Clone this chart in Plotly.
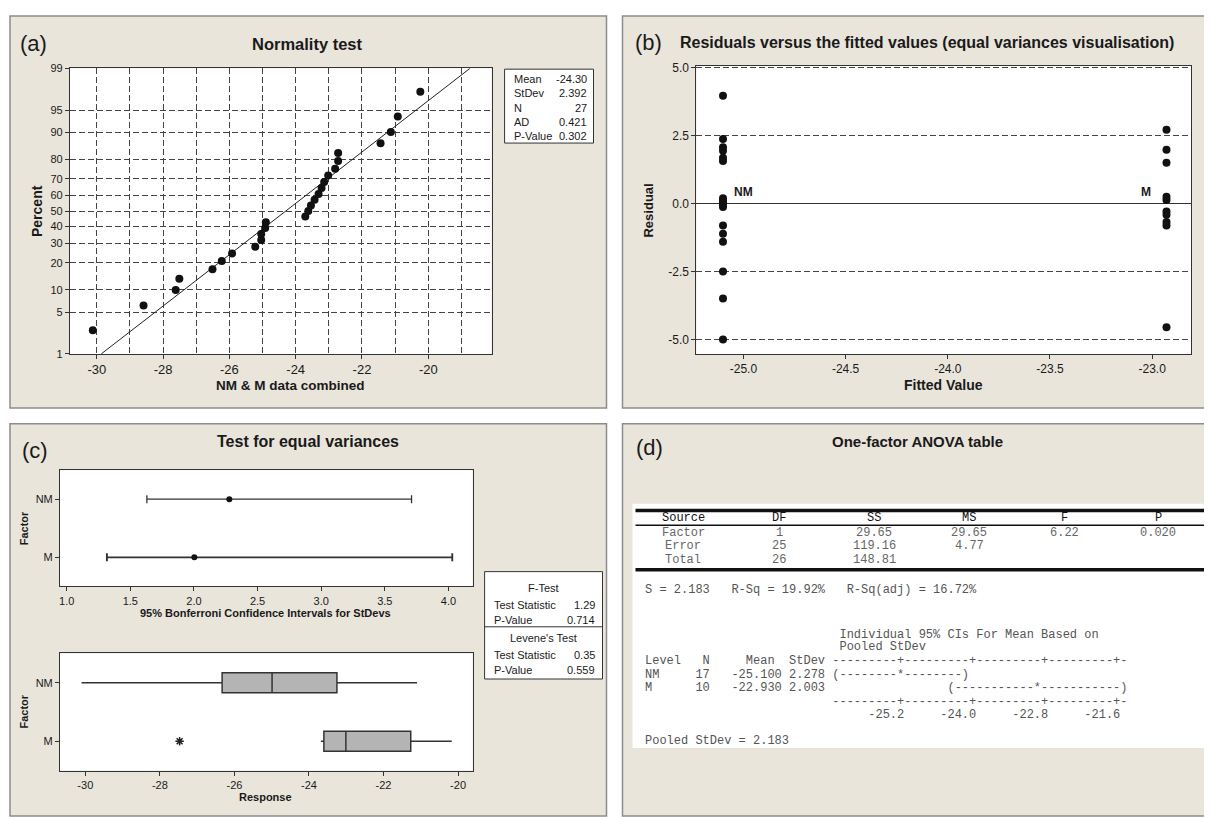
import plotly.graph_objects as go
from statistics import NormalDist

# page body has an 8px margin: figure is sized/positioned to fill the 1212x818 window exactly
OX, OY = 8, 8
FW, FH = 1204, 810
SANS = "Liberation Sans, Arial, sans-serif"
MONO = "Liberation Mono, Courier New, monospace"
BG = "#E9E5DB"
FRAME = "#8C8C8C"
INK = "#1A1A1A"
GRID = "#444444"

# ---------------- (a) Normality test ----------------
COMBINED_X = [-30.12, -28.59, -27.62, -27.51, -26.51, -26.23, -25.92, -25.22, -25.04,
              -25.04, -24.92, -24.90, -23.71, -23.62, -23.54, -23.43, -23.31, -23.22,
              -23.14, -23.02, -22.81, -22.72, -22.72, -21.44, -21.13, -20.92, -20.24]
COMBINED_PCT = [2.6, 6.2, 9.9, 13.5, 17.2, 20.8, 24.5, 28.1, 31.8, 35.4, 39.1, 42.7,
                46.4, 50.0, 53.6, 57.3, 60.9, 64.6, 68.2, 71.9, 75.5, 79.2, 82.8, 86.5,
                90.1, 93.8, 97.4]
PCT_TICKS = [1, 5, 10, 20, 30, 40, 50, 60, 70, 80, 90, 95, 99]
X_TICKS_A = [-30, -28, -26, -24, -22, -20]
NORM_LABELS = ["Mean", "StDev", "N", "AD", "P-Value"]
NORM_VALUES = ["-24.30", "2.392", "27", "0.421", "0.302"]
MEAN, STDEV = -24.30, 2.392

# ---------------- (b) Residuals vs fitted ----------------
NM_FIT, M_FIT = -25.10, -22.93
NM_RESID = [3.96, 2.37, 2.07, 1.94, 1.68, 1.56, 0.19, 0.10, 0.05, -0.05, -0.13,
            -0.81, -1.11, -1.41, -2.50, -3.49, -5.00]
M_RESID = [2.71, 1.98, 1.50, 0.25, 0.13, -0.29, -0.41, -0.68, -0.81, -4.55]
X_TICKS_B = [-25.0, -24.5, -24.0, -23.5, -23.0]
Y_TICKS_B = [-5.0, -2.5, 0.0, 2.5, 5.0]

# ---------------- (c) Test for equal variances ----------------
LEVELS = ["NM", "M"]
LEVEL_POS = [1, 0]
CI_LOW = [1.63, 1.316]
CI_EST = [2.278, 2.003]
CI_HIGH = [3.71, 4.03]
X_TICKS_C1 = [1.0, 1.5, 2.0, 2.5, 3.0, 3.5, 4.0]
BOX_LO = [-30.10, -23.68]
BOX_Q1 = [-26.33, -23.60]
BOX_MED = [-24.99, -23.01]
BOX_Q3 = [-23.25, -21.27]
BOX_HI = [-21.10, -20.17]
OUTLIER_X = [-27.47]
OUTLIER_POS = [0]
X_TICKS_C2 = [-30, -28, -26, -24, -22, -20]
FTEST = ["1.29", "0.714"]
LEVENE = ["0.35", "0.559"]

# ---------------- (d) ANOVA table ----------------
ANOVA_HEAD = ["Source", "DF", "SS", "MS", "F", "P"]
ANOVA_ROWS = [["Factor", "1", "29.65", "29.65", "6.22", "0.020"],
              ["Error", "25", "119.16", "4.77", "", ""],
              ["Total", "26", "148.81", "", "", ""]]
ANOVA_TEXT = [
    "S = 2.183   R-Sq = 19.92%   R-Sq(adj) = 16.72%",
    " " * 27 + "Individual 95% CIs For Mean Based on",
    " " * 27 + "Pooled StDev",
    "Level   N     Mean  StDev ---------+---------+---------+---------+-",
    "NM     17   -25.100 2.278 (--------*--------)",
    "M      10   -22.930 2.003                 (-----------*-----------)",
    " " * 26 + "---------+---------+---------+---------+-",
    " " * 31 + "-25.2     -24.0     -22.8     -21.6",
    "Pooled StDev = 2.183",
]

nd = NormalDist()
def zq(p):
    return nd.inv_cdf(p / 100.0)

def px(x):
    return (x - OX) / FW

def py(y):
    return 1 - (y - OY) / FH

shapes = []
def rect(x0, y0, x1, y1, fill, lc=None, lw=1.0, layer="below"):
    shapes.append(dict(type="rect", xref="paper", yref="paper",
                       x0=px(x0), x1=px(x1), y0=py(y1), y1=py(y0),
                       fillcolor=fill, layer=layer,
                       line=dict(color=lc if lc else fill, width=lw if lc else 0)))

def hline(x0, x1, y, color, width, layer="above"):
    shapes.append(dict(type="line", xref="paper", yref="paper", x0=px(x0), x1=px(x1),
                       y0=py(y), y1=py(y), line=dict(color=color, width=width), layer=layer))

annotations = []
def ann(x, y, text, size=12, bold=False, xanchor="center", color=INK, family=SANS, angle=0):
    annotations.append(dict(x=px(x), y=py(y), xref="paper", yref="paper",
                            text=("<b>%s</b>" % text) if bold else text,
                            showarrow=False, xanchor=xanchor, yanchor="middle",
                            textangle=angle, font=dict(family=family, size=size, color=color)))

# panels
rect(9, 10, 606, 408, BG, FRAME, 1.5)
rect(622, 10, 1210, 408, BG, FRAME, 1.5)
rect(9, 424, 606, 822, BG, FRAME, 1.5)
rect(622, 424, 1210, 822, BG, FRAME, 1.5)
# plot areas
rect(69, 63, 491, 353, "white")
rect(696, 61, 1191, 353, "white")
rect(59, 471, 472, 589, "white")
rect(59, 657, 472, 776, "white")
rect(632, 505, 1209, 753, "white")
# stats boxes
rect(504, 64, 593, 139, "white", "#333333", 1, layer="above")
rect(484, 574, 602, 683, "white", "#333333", 1, layer="above")
hline(484, 602, 630, "#333333", 1)
# anova table rules
hline(635, 1208, 512, "#111111", 3.5)
hline(635, 1208, 527, "#111111", 1.5)
hline(635, 1208, 572, "#111111", 3.5)

fig = go.Figure()

# (a)
zs = [zq(p) for p in COMBINED_PCT]
zlo, zhi = zq(PCT_TICKS[0]), zq(PCT_TICKS[-1])
fig.add_trace(go.Scatter(x=[MEAN + STDEV * zlo, MEAN + STDEV * zhi], y=[zlo, zhi],
                         mode="lines", line=dict(color="#222222", width=1),
                         xaxis="x", yaxis="y", showlegend=False, hoverinfo="skip"))
fig.add_trace(go.Scatter(x=COMBINED_X, y=zs, mode="markers",
                         marker=dict(size=8, color="#111111"),
                         xaxis="x", yaxis="y", showlegend=False))

# (b)
fig.add_trace(go.Scatter(x=[NM_FIT] * len(NM_RESID), y=NM_RESID, mode="markers",
                         marker=dict(size=8, color="#111111"),
                         xaxis="x2", yaxis="y2", showlegend=False))
fig.add_trace(go.Scatter(x=[M_FIT] * len(M_RESID), y=M_RESID, mode="markers",
                         marker=dict(size=8, color="#111111"),
                         xaxis="x2", yaxis="y2", showlegend=False))

# (c) top: CIs (one trace per level; the M interval is drawn slightly heavier)
for i, thick in zip(range(len(LEVELS)), [1.3, 1.9]):
    fig.add_trace(go.Scatter(x=[CI_EST[i]], y=[LEVEL_POS[i]], mode="markers",
                             marker=dict(size=6, color="#111111"),
                             error_x=dict(type="data", symmetric=False,
                                          array=[CI_HIGH[i] - CI_EST[i]],
                                          arrayminus=[CI_EST[i] - CI_LOW[i]],
                                          width=4, thickness=thick, color="#333333"),
                             xaxis="x3", yaxis="y3", showlegend=False))
# (c) bottom: boxplots
fig.add_trace(go.Box(y=LEVEL_POS, q1=BOX_Q1, median=BOX_MED, q3=BOX_Q3,
                     lowerfence=BOX_LO, upperfence=BOX_HI, orientation="h",
                     width=0.34, whiskerwidth=0, fillcolor="#B4B4B4",
                     line=dict(color="#333333", width=1.5), boxpoints=False,
                     xaxis="x4", yaxis="y4", showlegend=False))
fig.add_trace(go.Scatter(x=OUTLIER_X, y=OUTLIER_POS, mode="markers",
                         marker=dict(symbol="asterisk-open", size=7, color="#222222",
                                     line=dict(color="#222222", width=1.5)),
                         xaxis="x4", yaxis="y4", showlegend=False))

def axis(size, **kw):
    d = dict(showline=True, mirror=True, linecolor="#333333", linewidth=1,
             ticks="outside", ticklen=4, tickcolor="#333333", tickwidth=1,
             tickfont=dict(family=SANS, size=size, color=INK),
             zeroline=False, showgrid=False, fixedrange=True, tickmode="array")
    d.update(kw)
    return d

dash = "6px,3px"
fig.update_layout(
    width=FW, height=FH, margin=dict(l=0, r=0, t=0, b=0),
    paper_bgcolor="white", plot_bgcolor="rgba(0,0,0,0)",
    shapes=shapes, showlegend=False,
    xaxis=axis(13, domain=[px(69), px(491)], range=[-30.81, -18.09], anchor="y",
               tickvals=X_TICKS_A, ticktext=["%d" % v for v in X_TICKS_A],
               showgrid=True, gridcolor=GRID, griddash=dash, gridwidth=1,
               minor=dict(tick0=-30, dtick=1, showgrid=True, gridcolor=GRID,
                          griddash=dash, gridwidth=1, ticks="")),
    yaxis=axis(11, domain=[py(353), py(63)], range=[zlo, zhi], anchor="x",
               tickvals=[zq(p) for p in PCT_TICKS], ticktext=[str(p) for p in PCT_TICKS],
               showgrid=True, gridcolor=GRID, griddash=dash, gridwidth=1),
    xaxis2=axis(12, domain=[px(696), px(1191)], range=[-25.23, -22.81], anchor="y2",
                tickvals=X_TICKS_B, ticktext=["%.1f" % v for v in X_TICKS_B]),
    yaxis2=axis(12, domain=[py(353), py(61)], range=[-5.53, 5.05], anchor="x2",
                tickvals=Y_TICKS_B, ticktext=["%.1f" % v for v in Y_TICKS_B],
                showgrid=True, gridcolor=GRID, griddash=dash, gridwidth=1,
                zeroline=True, zerolinecolor="#333333", zerolinewidth=1.2),
    xaxis3=axis(11, domain=[px(59), px(472)], range=[0.947, 4.19], anchor="y3",
                tickvals=X_TICKS_C1, ticktext=["%.1f" % v for v in X_TICKS_C1]),
    yaxis3=axis(11, domain=[py(589), py(471)], range=[-0.5, 1.5], anchor="x3",
                tickvals=LEVEL_POS, ticktext=LEVELS),
    xaxis4=axis(11, domain=[px(59), px(472)], range=[-30.68, -19.61], anchor="y4",
                tickvals=X_TICKS_C2, ticktext=["%d" % v for v in X_TICKS_C2]),
    yaxis4=axis(11, domain=[py(776), py(657)], range=[-0.5, 1.5], anchor="x4",
                tickvals=LEVEL_POS, ticktext=LEVELS),
)

# panel letters and titles
ann(17, 38, "(a)", size=22, xanchor="left")
ann(307, 38, "Normality test", size=16.5, bold=True)
ann(633, 37, "(b)", size=22, xanchor="left")
ann(927, 37, "Residuals versus the fitted values (equal variances visualisation)", size=16, bold=True)
ann(19, 451, "(c)", size=22, xanchor="left")
ann(307, 442, "Test for equal variances", size=16, bold=True)
ann(634, 448, "(d)", size=22, xanchor="left")
ann(917, 442, "One-factor ANOVA table", size=15, bold=True)

# axis titles
ann(36, 208, "Percent", size=14, bold=True, angle=-90)
ann(290, 385, "NM &amp; M data combined", size=13.5, bold=True)
ann(648, 207, "Residual", size=13, bold=True, angle=-90)
ann(943, 385, "Fitted Value", size=14, bold=True)
ann(23, 530, "Factor", size=11, bold=True, angle=-90)
ann(23, 716, "Factor", size=11, bold=True, angle=-90)
ann(265, 616, "95% Bonferroni Confidence Intervals for StDevs", size=11, bold=True)
ann(265, 803, "Response", size=11, bold=True)

# (b) group labels
annotations.append(dict(x=-25.0, y=0.41, xref="x2", yref="y2", text="<b>NM</b>", showarrow=False,
                        xanchor="center", yanchor="middle", font=dict(family=SANS, size=12, color=INK)))
annotations.append(dict(x=-23.03, y=0.41, xref="x2", yref="y2", text="<b>M</b>", showarrow=False,
                        xanchor="center", yanchor="middle", font=dict(family=SANS, size=12, color=INK)))

# (a) stats box
for i, (lab, val) in enumerate(zip(NORM_LABELS, NORM_VALUES)):
    yy = 74 + i * 14.5
    ann(511, yy, lab, size=11, xanchor="left")
    ann(588, yy, val, size=11, xanchor="right")

# (c) stats box
ann(543, 591, "F-Test", size=11)
ann(491, 608, "Test Statistic", size=11, xanchor="left")
ann(596, 608, FTEST[0], size=11, xanchor="right")
ann(491, 623, "P-Value", size=11, xanchor="left")
ann(596, 623, FTEST[1], size=11, xanchor="right")
ann(543, 641, "Levene's Test", size=11)
ann(491, 659, "Test Statistic", size=11, xanchor="left")
ann(596, 659, LEVENE[0], size=11, xanchor="right")
ann(491, 674, "P-Value", size=11, xanchor="left")
ann(596, 674, LEVENE[1], size=11, xanchor="right")

# (d) ANOVA table
COLX = [683, 779, 874, 969, 1064, 1158]
for cx, h in zip(COLX, ANOVA_HEAD):
    ann(cx, 520, h, size=12, family=MONO, color="#111111")
for ry, row in zip([535, 548.5, 562], ANOVA_ROWS):
    for cx, cell in zip(COLX, row):
        if cell:
            ann(cx, ry, cell, size=12, family=MONO, color="#666666")
for ly, line in zip([593, 638, 651, 665, 679, 692, 706, 719.5, 746], ANOVA_TEXT):
    ann(643, ly, line.replace(" ", "\u00a0"), size=12, family=MONO, xanchor="left", color="#555555")

fig.update_layout(annotations=annotations)
fig.write_html("out.html")
